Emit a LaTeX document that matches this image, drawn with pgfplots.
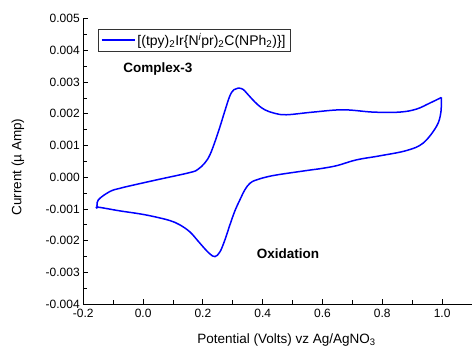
\documentclass[border=0pt]{standalone}
\usepackage{fontspec}
\setmainfont{Liberation Sans}
\usepackage{pgfplots}
\pgfplotsset{compat=1.18}
\definecolor{cvblue}{RGB}{0,0,255}
\begin{document}
\begin{tikzpicture}
\useasboundingbox (-83.3pt,-47pt) rectangle (388.7pt,304pt);
\begin{axis}[
  scale only axis,
  width=388.7pt, height=285.3pt,
  xmin=-0.2, xmax=1.1, ymin=-0.004, ymax=0.005,
  axis x line=bottom, axis y line=left,
  axis line style={-, line width=0.9pt},
  tick align=inside,
  major tick length=5pt, minor tick length=4pt,
  tick style={black, line width=0.8pt},
  xtick={-0.2,0,0.2,0.4,0.6,0.8,1.0},
  minor xtick={-0.1,0.1,0.3,0.5,0.7,0.9,1.1},
  ytick={-0.004,-0.003,-0.002,-0.001,0,0.001,0.002,0.003,0.004,0.005},
  minor ytick={-0.0035,-0.0025,-0.0015,-0.0005,0.0005,0.0015,0.0025,0.0035,0.0045},
  scaled y ticks=false,
  xticklabel style={yshift=-2pt, /pgf/number format/.cd, fixed, fixed zerofill, precision=1},
  yticklabel style={/pgf/number format/.cd, fixed, fixed zerofill, precision=3},
  /pgf/number format/assume math mode=true,
  tick label style={font=\fontsize{12}{14}\selectfont},
  label style={font=\fontsize{13.5}{16}\selectfont},
  xlabel={Potential (Volts) vz Ag/AgNO\textsubscript{3}},
  xlabel style={at={(axis description cs:0.523,-0.126)}, anchor=center},
  ylabel={Current (µ Amp)},
  ylabel style={at={(axis description cs:-0.168,0.48)}, anchor=center},
  legend style={at={(axis description cs:0.037,0.965)}, anchor=north west,
    draw=black!80, line width=0.6pt, font=\fontsize{14}{16}\selectfont,
    inner xsep=3pt, inner ysep=2pt, row sep=0pt},
  legend cell align=left,
  legend image code/.code={\draw[#1, line width=1.5pt] (0pt,0pt) -- (33pt,0pt);},
  clip=false,
]
\addplot[color=cvblue, line width=1.5pt, smooth, tension=0.6] coordinates {
(-0.1532,-0.00098)
(-0.1500,-0.00072)
(-0.1108,-0.00045)
(-0.0773,-0.00035)
(-0.0439,-0.000273)
(0.0453,-0.000084)
(0.1566,0.000147)
(0.1834,0.000248)
(0.2068,0.000453)
(0.2235,0.000706)
(0.2402,0.001116)
(0.2570,0.001590)
(0.2736,0.002095)
(0.2903,0.002569)
(0.3037,0.002760)
(0.3180,0.002812)
(0.3338,0.002774)
(0.3470,0.002648)
(0.3637,0.002474)
(0.3838,0.002284)
(0.4070,0.002127)
(0.4400,0.002016)
(0.4798,0.001970)
(0.5687,0.002054)
(0.6690,0.002127)
(0.7690,0.002054)
(0.8585,0.002054)
(0.9143,0.002149)
(0.9588,0.002338)
(0.9978,0.002515)
};
\addlegendentry{[(tpy)\textsubscript{2}Ir\{N\textsuperscript{\itshape i}pr)\textsubscript{2}C(NPh\textsubscript{2})\}]}
\addplot[color=cvblue, line width=1.5pt, smooth, tension=0.6, forget plot] coordinates {
(0.9978,0.002515)
(0.9955,0.002022)
(0.9810,0.001600)
(0.9364,0.001075)
(0.8809,0.000841)
(0.7916,0.000674)
(0.7138,0.000548)
(0.6500,0.000370)
(0.6000,0.000280)
(0.5467,0.000210)
(0.4350,0.000052)
(0.3795,-0.000084)
(0.3570,-0.000194)
(0.3403,-0.000399)
(0.3237,-0.000715)
(0.3070,-0.001063)
(0.2903,-0.001505)
(0.2736,-0.001978)
(0.2570,-0.002357)
(0.2402,-0.002506)
(0.2235,-0.002420)
(0.2068,-0.002262)
(0.1834,-0.002010)
(0.1566,-0.001726)
(0.1232,-0.001505)
(0.0898,-0.001369)
(0.0396,-0.001250)
(-0.0105,-0.001157)
(-0.0773,-0.001063)
(-0.1499,-0.000946)
(-0.1532,-0.00098)
};
\node[anchor=west, font=\bfseries\fontsize{13.5}{16}\selectfont, inner sep=0pt] at (axis cs:-0.067,0.00342) {Complex-3};
\node[anchor=west, font=\bfseries\fontsize{13.5}{16}\selectfont, inner sep=0pt] at (axis cs:0.3795,-0.0024) {Oxidation};
\end{axis}
\end{tikzpicture}
\end{document}
